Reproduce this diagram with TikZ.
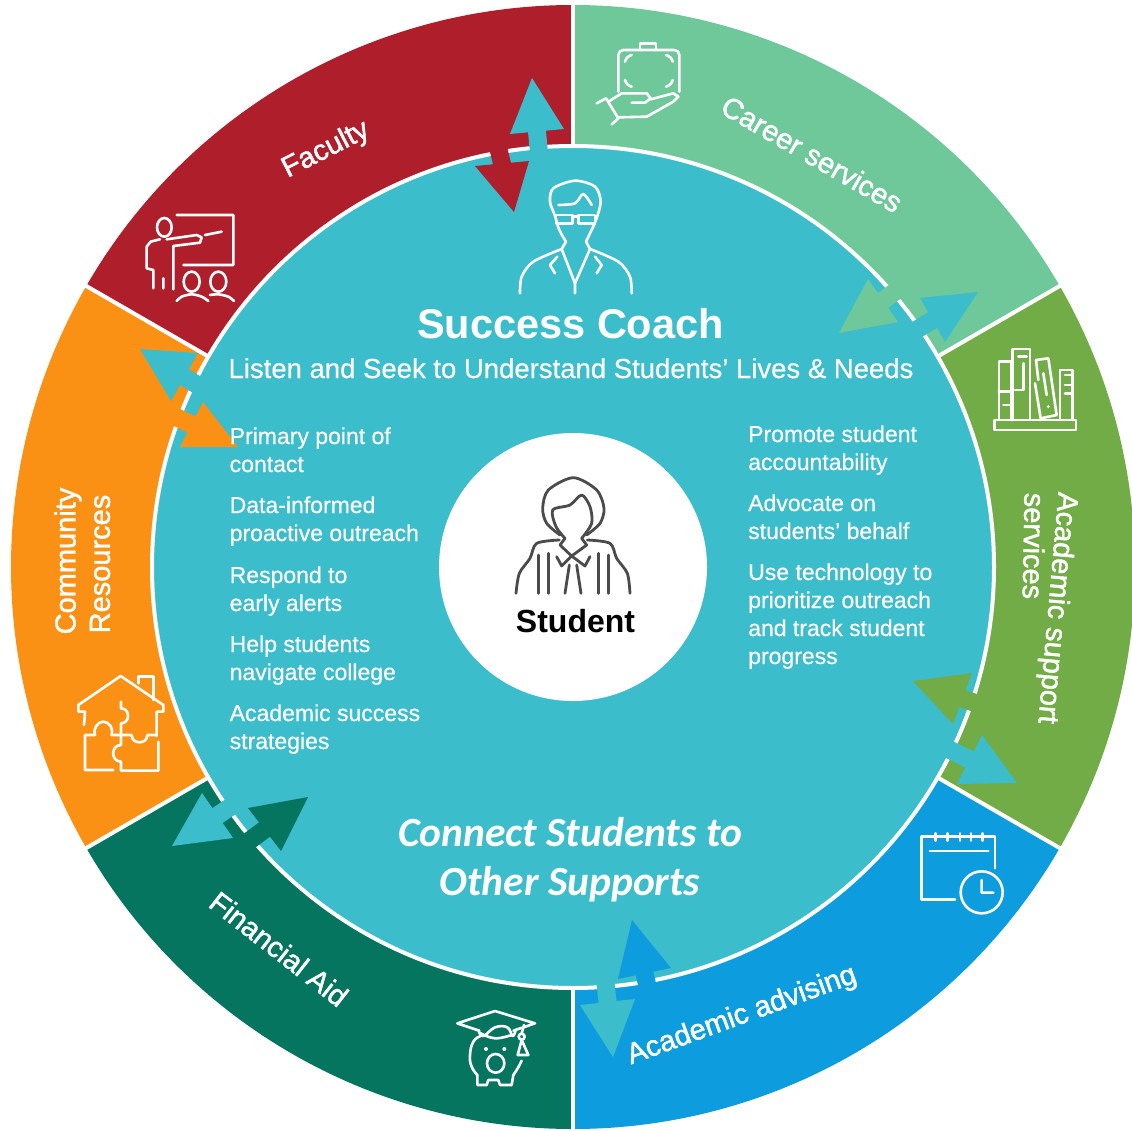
\documentclass[tikz,border=0pt]{standalone}
\usepackage{fontspec}
\setmainfont{Liberation Sans}
\newfontfamily\calfont{Carlito}
\newfontfamily\labfont[FakeBold=1.5]{Liberation Sans}
\newfontfamily\txtfont[FakeBold=0.5]{Liberation Sans}
\usetikzlibrary{calc}
\definecolor{teal1}{RGB}{59,189,204}
\definecolor{facred}{RGB}{174,30,43}
\definecolor{cargreen}{RGB}{111,200,154}
\definecolor{acgreen}{RGB}{114,172,70}
\definecolor{advblue}{RGB}{13,157,223}
\definecolor{findark}{RGB}{5,117,96}
\definecolor{comorange}{RGB}{251,145,20}
\definecolor{icongray}{RGB}{75,75,75}
\tikzset{
  icon/.style={draw=white,line width=2.6pt,line cap=round,line join=round},
  darkicon/.style={draw=icongray,line width=2.8pt,line cap=round,line join=round},
  seglabel/.style={text=white,font=\labfont\fontsize{29}{31}\selectfont,inner sep=0pt},
  listtext/.style={text=white,font=\txtfont\fontsize{23}{28}\selectfont,inner sep=0pt,anchor=base west},
  conn/.style={text=white,font=\calfont\bfseries\itshape\fontsize{41.5}{44}\selectfont,inner sep=0pt,anchor=base},
}
\newcommand{\wedgefill}[3]{\fill[#1] (C) -- ++(#2:562pt) arc[start angle=#2,end angle=#3,radius=562pt] -- cycle;}
\newcommand{\spoke}[1]{\draw[white,line width=4pt] ($(C)+(#1:421pt)$) -- ($(C)+(#1:572pt)$);}
% colour, tip, base corner, base corner, stem length
\newcommand{\halfarrow}[5]{%
  \coordinate (T) at (#2);\coordinate (L) at (#3);\coordinate (R) at (#4);
  \coordinate (M) at ($(L)!.5!(R)$);
  \coordinate (S1) at ($(M)!9pt!(L)$);\coordinate (S2) at ($(M)!9pt!(R)$);
  \coordinate (E) at ($(M)!#5pt!180:(T)$);
  \fill[#1] (T) -- (L) -- (S1) -- ($(S1)+(E)-(M)$) -- ($(S2)+(E)-(M)$) -- (S2) -- (R) -- cycle;}
\begin{document}
\begin{tikzpicture}[x=1pt,y=-1pt]
\useasboundingbox (0,0) rectangle (1132,1130);
\clip (0,0) rectangle (1132,1130);
\fill[white] (0,0) rectangle (1132,1130);
\coordinate (C) at (573,567);
\wedgefill{cargreen}{30}{90}
\wedgefill{facred}{90}{150}
\wedgefill{comorange}{150}{210}
\wedgefill{findark}{210}{270}
\wedgefill{advblue}{270}{330}
\wedgefill{acgreen}{-30}{30}
\fill[teal1] (C) circle[radius=420pt];
\draw[white,line width=4pt] (C) circle[radius=421pt];
\foreach \a in {30,90,150,210,270,330}{\spoke{\a}}
% double arrows across the ring
\halfarrow{facred}{514,212}{475,166}{529,161}{34}
\halfarrow{teal1}{532,78}{510,134}{564,129}{40}
\halfarrow{cargreen}{839,333}{868,279}{898,322}{28}
\halfarrow{teal1}{978,292}{920,298}{945,342}{26}
\halfarrow{acgreen}{913,681}{972,673}{953,724}{24}
\halfarrow{teal1}{1017,783}{982,735}{957,784}{26}
\halfarrow{advblue}{632,920}{618,979}{671,968}{24}
\halfarrow{teal1}{613,1057}{580,1005}{635,999}{28}
\halfarrow{findark}{308,797}{248,808}{281,851}{22}
\halfarrow{teal1}{172,846}{202,793}{233,838}{24}
\halfarrow{comorange}{238,447}{203,402}{180,447}{26}
\halfarrow{teal1}{140,349}{198,353}{171,401}{24}
% centre
\fill[white] (C) circle[radius=134pt];
% segment labels
\node[seglabel,rotate=27] (faculty) at (326,150) {Faculty};
\node[seglabel,rotate=-30] (career) at (812,154) {Career services};
\node[seglabel,rotate=-95] (acsupport) at (1056,608) {Academic support};
\node[seglabel,rotate=-91] (acservices) at (1034,546) {services};
\node[seglabel,rotate=20] (advising) at (742,1016) {Academic advising};
\node[seglabel,rotate=-38] (finaid) at (279,949) {Financial Aid};
\node[seglabel,rotate=90] (community) at (68,561) {Community};
\node[seglabel,rotate=90] (resources) at (100,564) {Resources};
% headings
\node[text=white,inner sep=0pt,anchor=base,font=\bfseries\fontsize{41.5}{44}\selectfont] (coach) at (570.5,338) {Success Coach};
\node[text=white,inner sep=0pt,anchor=base,font=\txtfont\fontsize{27.5}{30}\selectfont] (listen) at (571,378) {Listen and Seek to Understand Students’ Lives \& Needs};
\node[conn] (conn1) at (570,846) {Connect Students to};
\node[conn] (conn2) at (570,895) {Other Supports};
\node[inner sep=0pt,anchor=base,text=black,font=\bfseries\fontsize{32}{33}\selectfont] (student) at (575.5,632) {Student};
% left list
\node[listtext] (l1) at (229.5,444) {Primary point of};
\node[listtext] (l2) at (229.5,472) {contact};
\node[listtext] (l3) at (229.5,513) {Data-informed};
\node[listtext] (l4) at (229.5,541) {proactive outreach};
\node[listtext] (l5) at (229.5,583) {Respond to};
\node[listtext] (l6) at (229.5,611) {early alerts};
\node[listtext] (l7) at (229.5,652) {Help students};
\node[listtext] (l8) at (229.5,680) {navigate college};
\node[listtext] (l9) at (229.5,721) {Academic success};
\node[listtext] (l10) at (229.5,749) {strategies};
% right list
\node[listtext] (r1) at (748,442) {Promote student};
\node[listtext] (r2) at (748,470) {accountability};
\node[listtext] (r3) at (748,511) {Advocate on};
\node[listtext] (r4) at (748,539) {students’ behalf};
\node[listtext] (r5) at (748,580) {Use technology to};
\node[listtext] (r6) at (748,608) {prioritize outreach};
\node[listtext] (r7) at (748,636) {and track student};
\node[listtext] (r8) at (748,664) {progress};
% coach icon
\begin{scope}[shift={(420pt,-60pt)},x=.33333pt,y=-.33333pt]
\draw[icon] plot[smooth] coordinates {(438,545) (418,510) (404,465) (390,425) (400,385) (465,362) (525,380) (542,425) (528,480) (510,520) (498,545)};
\draw[icon] plot[smooth] coordinates {(415,435) (465,430) (490,402) (515,435)};
\draw[icon] (408,465) rectangle (458,490) (475,465) rectangle (525,490) (458,470) -- (475,470);
\draw[icon] plot[smooth] coordinates {(300,700) (305,650) (340,605) (425,567)};
\draw[icon] plot[smooth] coordinates {(635,700) (630,650) (595,605) (510,567)};
\draw[icon] (438,545) -- (425,567) -- (465,670) -- (510,567) -- (498,545);
\draw[icon] (412,590) -- (390,615) -- (405,640) (525,590) -- (545,615) -- (530,640) (465,670) -- (465,700);
\end{scope}
% student icon
\begin{scope}[shift={(480pt,-460pt)},x=.33333pt,y=-.33333pt]
\draw[darkicon] plot[smooth] coordinates {(240,225) (200,190) (188,145) (205,90) (280,53) (350,90) (372,145) (360,190) (320,225)};
\draw[darkicon] plot[smooth] coordinates {(255,235) (228,200) (218,150) (270,135) (305,105) (330,140) (335,190) (305,235)};
\draw[darkicon] (255,235) -- (240,255) -- (275,288) -- (320,255) -- (305,235);
\draw[darkicon] plot[smooth] coordinates {(108,400) (118,340) (150,295) (170,250) (238,240)};
\draw[darkicon] plot[smooth] coordinates {(450,400) (442,340) (410,295) (390,250) (322,240)};
\draw[darkicon] (175,285) -- (175,400) (205,280) -- (205,400) (355,280) -- (355,400) (385,285) -- (385,400);
\draw[darkicon] (230,290) -- (245,318) -- (275,288) -- (315,318) -- (330,290);
\draw[darkicon] (268,315) -- (255,400) (290,315) -- (303,400);
\end{scope}
% faculty icon
\begin{scope}[shift={(130pt,-200pt)},x=.33333pt,y=-.33333pt]
\draw[icon] (140,45) -- (310,45) -- (310,195) -- (160,195) (225,105) -- (275,95);
\draw[icon] (103,82) ellipse[x radius=22,y radius=28];
\draw[icon] (90,118) -- (62,125) -- (50,140) -- (50,205) -- (70,210) -- (70,265) (100,235) -- (100,265);
\draw[icon] (110,118) -- (200,105) -- (215,112) -- (210,128) -- (130,138) -- (130,268);
\draw[icon] (185,245) ellipse[x radius=24,y radius=30] (265,245) ellipse[x radius=24,y radius=30];
\draw[icon] plot[smooth] coordinates {(140,303) (155,290) (185,283) (215,290) (235,303)};
\draw[icon] plot[smooth] coordinates {(240,285) (265,283) (295,290) (312,303)};
\end{scope}
% career icon
\begin{scope}[shift={(590pt,-30pt)},x=.33333pt,y=-.33333pt]
\draw[icon] (85,185) -- (85,75) to[out=90,in=180] (100,60) -- (253,60) to[out=0,in=90] (268,75) -- (268,185);
\draw[icon] (150,60) -- (150,40) -- (198,40) -- (198,60);
\draw[icon] (105,95) to[bend left=30] (125,75) (228,75) to[bend left=30] (248,95) (105,150) to[bend right=30] (125,170) (228,170) to[bend right=30] (248,150);
\draw[icon] (20,220) -- (48,205) -- (85,265) -- (65,283);
\draw[icon] (55,215) -- (95,190) -- (170,190) -- (182,205) -- (165,218) -- (125,218);
\draw[icon] (182,208) -- (250,190) -- (265,200) -- (250,215) -- (170,260) -- (85,262);
\end{scope}
% books icon
\begin{scope}[shift={(830pt,-270pt)},x=.33333pt,y=-.33333pt]
\draw[icon] (493,450) rectangle (738,480);
\draw[icon] (507,450) -- (507,275) -- (545,275) -- (545,450) (507,365) -- (545,365) (520,405) -- (545,405);
\draw[icon] (547,450) -- (547,237) -- (600,237) -- (600,450) (565,260) -- (590,260) (580,280) -- (580,360) -- (555,360);
\draw[icon] (615,340) -- (632,445) -- (680,435) -- (655,265) -- (618,270) -- (625,330) (640,310) -- (650,375);
\fill[white] (655,410) circle[radius=1.6pt];
\draw[icon] (690,450) -- (690,300) -- (728,300) -- (728,450) (705,315) -- (728,315) (705,345) -- (728,345) (705,370) -- (728,370);
\end{scope}
% calendar icon
\begin{scope}[shift={(880pt,-650pt)},x=.33333pt,y=-.33333pt]
\draw[icon] (225,748) -- (125,748) -- (125,560) -- (345,560) -- (345,655) (150,603) -- (325,603);
\foreach \t in {167,203,240,273,308}{\draw[icon] (\t,550) -- (\t,572);}
\draw[icon] (305,727) circle[radius=21pt] (305,690) -- (305,728) -- (340,728);
\end{scope}
% piggy icon
\begin{scope}[shift={(450pt,-1000pt)},x=.33333pt,y=-.33333pt]
\draw[icon] (88,92) -- (22,70) -- (135,33) -- (255,70) -- (190,92);
\draw[icon] plot[smooth,tension=.7] coordinates {(85,90) (100,108) (135,82) (172,82) (188,108) (197,90)};
\draw[icon] plot[smooth,tension=.7] coordinates {(92,100) (135,115) (185,105)};
\draw[icon] (222,75) -- (215,100) (215,120) -- (203,165) -- (235,165) -- cycle;
\draw[icon] (215,110) circle[radius=3pt];
\draw[icon] plot[smooth,tension=.8] coordinates {(92,108) (70,125) (60,165) (65,200) (82,225)};
\draw[icon] (82,225) -- (82,255) -- (110,255) -- (115,240) -- (145,240) -- (150,255) -- (185,255) -- (190,225);
\draw[icon] plot[smooth,tension=.7] coordinates {(190,225) (203,205) (215,182)};
\draw[icon] (137,190) ellipse[x radius=26,y radius=28];
\fill[white] (108,147) circle[radius=2pt] (163,147) circle[radius=2pt];
\end{scope}
% puzzle house icon
\begin{scope}[shift={(60pt,-660pt)},x=.33333pt,y=-.33333pt]
\draw[icon] (72,195) -- (75,155) -- (55,155) -- (55,135) -- (182,48) -- (310,135) -- (310,155) -- (290,155) -- (290,228);
\draw[icon] (235,70) -- (235,50) -- (280,50) -- (280,120);
\draw[icon] (160,330) -- (75,330) -- (75,225) -- (105,225) to[out=110,in=180] (130,185) to[out=0,in=70] (155,225) -- (183,225);
\draw[icon] (183,125) -- (183,145) to[out=0,in=0,looseness=1.6] (183,190) -- (183,255) to[out=180,in=180,looseness=1.6] (183,305) -- (183,332) -- (295,332) -- (295,245);
\draw[icon] (183,225) -- (215,225) to[out=-90,in=-90,looseness=1.6] (262,225) -- (290,225);
\end{scope}
\end{tikzpicture}
\end{document}
